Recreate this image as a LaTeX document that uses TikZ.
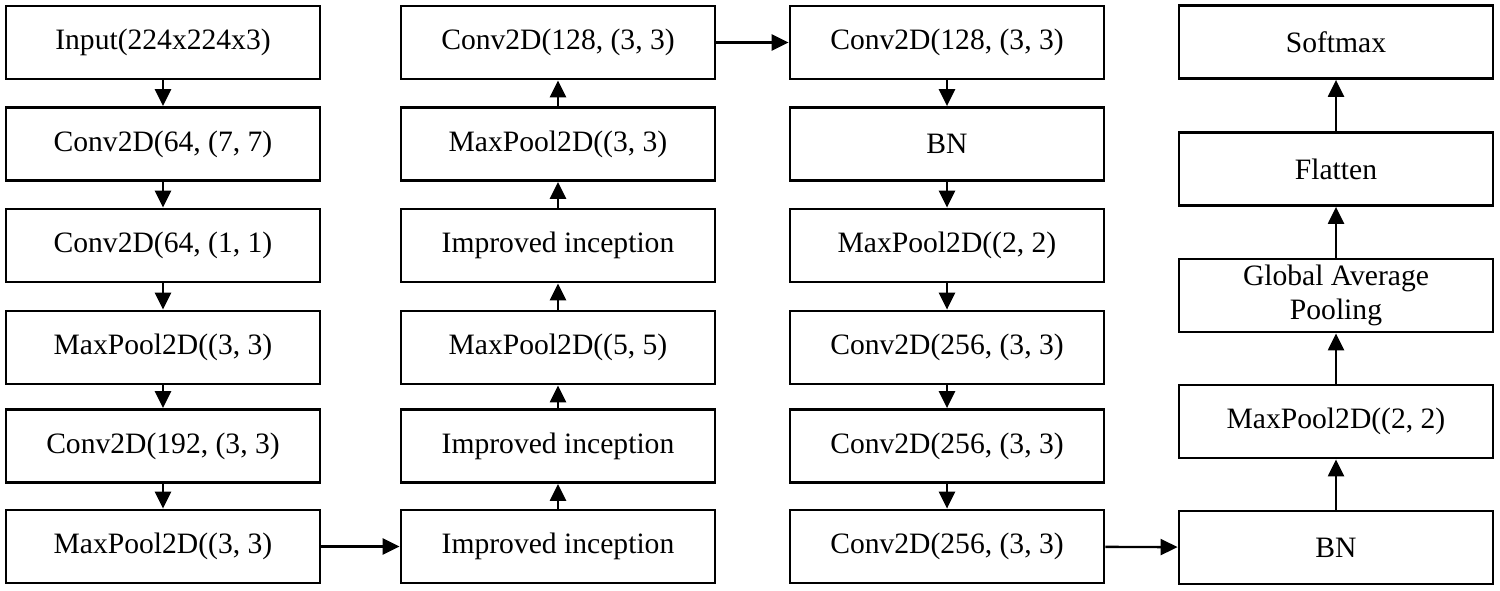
\documentclass[tikz,border=0pt]{standalone}
\usepackage{fontspec}
\setmainfont{Liberation Serif}
\usetikzlibrary{arrows.meta}
\begin{document}
\begin{tikzpicture}[x=0.5pt,y=-0.5pt,
  layer/.style={draw=black,line width=1.4pt,rectangle,minimum width=157pt,minimum height=36.5pt,inner sep=0pt,align=center,font=\fontsize{14.8}{17}\selectfont},
  conn/.style={line width=1.2pt,-{Triangle[length=8.5pt,width=8pt]}}]
\useasboundingbox (0,0) rectangle (1500,590);
% column 1
\node[layer] (a1) at (163,42.5) {Input(224x224x3)};
\node[layer] (a2) at (163,144) {Conv2D(64, (7, 7)};
\node[layer] (a3) at (163,245.5) {Conv2D(64, (1, 1)};
\node[layer] (a4) at (163,347.5) {MaxPool2D((3, 3)};
\node[layer] (a5) at (163,446) {Conv2D(192, (3, 3)};
\node[layer] (a6) at (163,546.5) {MaxPool2D((3, 3)};
% column 2
\node[layer] (b6) at (558,42.5) {Conv2D(128, (3, 3)};
\node[layer] (b5) at (558,144) {MaxPool2D((3, 3)};
\node[layer] (b4) at (558,245.5) {Improved inception};
\node[layer] (b3) at (558,347.5) {MaxPool2D((5, 5)};
\node[layer] (b2) at (558,446) {Improved inception};
\node[layer] (b1) at (558,546.5) {Improved inception};
% column 3
\node[layer] (c1) at (947,42.5) {Conv2D(128, (3, 3)};
\node[layer] (c2) at (947,144) {BN};
\node[layer] (c3) at (947,245.5) {MaxPool2D((2, 2)};
\node[layer] (c4) at (947,347.5) {Conv2D(256, (3, 3)};
\node[layer] (c5) at (947,446) {Conv2D(256, (3, 3)};
\node[layer] (c6) at (947,546.5) {Conv2D(256, (3, 3)};
% column 4
\node[layer] (d5) at (1336,42) {Softmax};
\node[layer] (d4) at (1336,169) {Flatten};
\node[layer] (d3) at (1336,295.5) {Global Average\\Pooling};
\node[layer] (d2) at (1336,421.5) {MaxPool2D((2, 2)};
\node[layer] (d1) at (1336,547.5) {BN};
% connectors
\draw[conn] (a1) -- (a2);
\draw[conn] (a2) -- (a3);
\draw[conn] (a3) -- (a4);
\draw[conn] (a4) -- (a5);
\draw[conn] (a5) -- (a6);
\draw[conn] (a6) -- (b1);
\draw[conn] (b1) -- (b2);
\draw[conn] (b2) -- (b3);
\draw[conn] (b3) -- (b4);
\draw[conn] (b4) -- (b5);
\draw[conn] (b5) -- (b6);
\draw[conn] (b6) -- (c1);
\draw[conn] (c1) -- (c2);
\draw[conn] (c2) -- (c3);
\draw[conn] (c3) -- (c4);
\draw[conn] (c4) -- (c5);
\draw[conn] (c5) -- (c6);
\draw[conn] (c6) -- (d1);
\draw[conn] (d1) -- (d2);
\draw[conn] (d2) -- (d3);
\draw[conn] (d3) -- (d4);
\draw[conn] (d4) -- (d5);
\end{tikzpicture}
\end{document}
